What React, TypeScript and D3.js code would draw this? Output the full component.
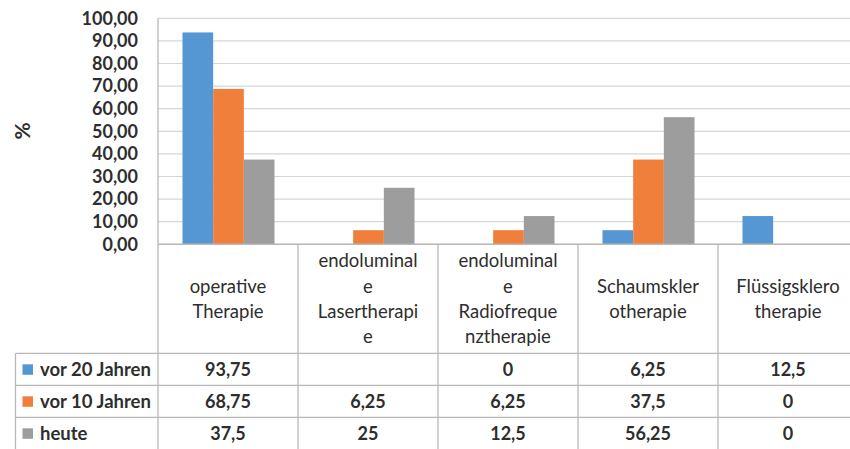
import React from "react";
import * as d3 from "d3";

const categories: string[][] = [
  ["operative", "Therapie"],
  ["endoluminal", "e", "Lasertherapi", "e"],
  ["endoluminal", "e", "Radiofreque", "nztherapie"],
  ["Schaumskler", "otherapie"],
  ["Flüssigsklero", "therapie"],
];
const seriesNames = ["vor 20 Jahren", "vor 10 Jahren", "heute"];
const vor20: (number | null)[] = [93.75, null, 0, 6.25, 12.5];
const vor10: (number | null)[] = [68.75, 6.25, 6.25, 37.5, 0];
const heute: (number | null)[] = [37.5, 25, 12.5, 56.25, 0];
const yTicks = [0, 10, 20, 30, 40, 50, 60, 70, 80, 90, 100];
const colors = ["#5597D3", "#EF7F3A", "#9D9D9D"];

const W = 850;
const H = 449;
const FONT = "Lato, 'Open Sans', sans-serif";

export default function App() {
  const series = [vor20, vor10, heute];
  const plotLeft = 158;
  const colW = 140;
  const x0 = d3
    .scaleBand<number>()
    .domain(d3.range(categories.length))
    .range([plotLeft, plotLeft + colW * categories.length]);
  const x1 = d3.scaleBand<number>().domain([0, 1, 2]).range([24.5, 116.5]);
  const y = d3.scaleLinear().domain([0, 100]).range([244.3, 18.3]);

  const fmt = (v: number) => v.toFixed(2).replace(".", ",");
  const fmtCell = (v: number | null) =>
    v === null ? "" : String(v).replace(".", ",");

  const headerTop = y(0);
  const headerBottom = 353.3;
  const rowH = 32;
  const legendLeft = 15.5;
  const lineColor = "#b8b8b8";
  const textColor = "#2e2e2e";

  return (
    <svg
      width={W}
      height={H}
      style={{ position: "absolute", left: 0, top: 0, background: "#fff" }}
      fontFamily={FONT}
    >
      <rect x={0} y={0} width={W} height={H} fill="#fff" />
      {yTicks.map((t) => (
        <line
          key={"g" + t}
          x1={plotLeft}
          x2={W}
          y1={y(t)}
          y2={y(t)}
          stroke="#d6d6d6"
          strokeWidth={1.2}
        />
      ))}
      {yTicks.map((t) => (
        <text
          key={"t" + t}
          x={138}
          y={y(t)}
          dy="0.35em"
          textAnchor="end"
          fontSize={18}
          fontWeight={700}
          fill={textColor}
        >
          {fmt(t)}
        </text>
      ))}
      <text
        transform={`translate(23,131) rotate(-90)`}
        textAnchor="middle"
        dy="0.35em"
        fontSize={21}
        fontWeight={700}
        fill={textColor}
      >
        %
      </text>
      {series.map((s, si) =>
        s.map((v, ci) =>
          v === null || v === 0 ? null : (
            <rect
              key={`b${si}-${ci}`}
              x={(x0(ci) as number) + (x1(si) as number)}
              y={y(v)}
              width={x1.bandwidth()}
              height={y(0) - y(v)}
              fill={colors[si]}
            />
          )
        )
      )}
      <line x1={plotLeft} x2={plotLeft} y1={y(100)} y2={H} stroke={lineColor} strokeWidth={1.3} />
      <line x1={plotLeft} x2={W} y1={headerTop} y2={headerTop} stroke={lineColor} strokeWidth={1.5} />
      {categories.map((_, ci) =>
        ci === 0 ? null : (
          <line
            key={"v" + ci}
            x1={x0(ci) as number}
            x2={x0(ci) as number}
            y1={headerTop}
            y2={H}
            stroke={lineColor}
            strokeWidth={1.3}
          />
        )
      )}
      {[0, 1, 2].map((r) => (
        <line
          key={"h" + r}
          x1={legendLeft}
          x2={W}
          y1={headerBottom + r * rowH}
          y2={headerBottom + r * rowH}
          stroke={lineColor}
          strokeWidth={1.3}
        />
      ))}
      <line x1={legendLeft} x2={legendLeft} y1={headerBottom} y2={H} stroke={lineColor} strokeWidth={1.3} />
      {categories.map((lines, ci) => {
        const cx = (x0(ci) as number) + x0.bandwidth() / 2;
        const lh = 25.3;
        const cy = (headerTop + headerBottom) / 2;
        const start = cy - ((lines.length - 1) * lh) / 2;
        return lines.map((ln, li) => (
          <text
            key={`c${ci}-${li}`}
            x={cx}
            y={start + li * lh}
            dy="0.35em"
            textAnchor="middle"
            fontSize={18.5}
            fill={textColor}
          >
            {ln}
          </text>
        ));
      })}
      {seriesNames.map((name, si) => {
        const cy = headerBottom + si * rowH + rowH / 2;
        return (
          <g key={"r" + si}>
            <rect x={22.5} y={cy - 5} width={10.5} height={10.5} fill={colors[si]} />
            <text x={40} y={cy} dy="0.35em" fontSize={18.5} fontWeight={700} fill={textColor}>
              {name}
            </text>
            {series[si].map((v, ci) => (
              <text
                key={`v${si}-${ci}`}
                x={(x0(ci) as number) + x0.bandwidth() / 2}
                y={cy}
                dy="0.35em"
                textAnchor="middle"
                fontSize={18}
                fontWeight={700}
                fill={textColor}
              >
                {fmtCell(v)}
              </text>
            ))}
          </g>
        );
      })}
    </svg>
  );
}
